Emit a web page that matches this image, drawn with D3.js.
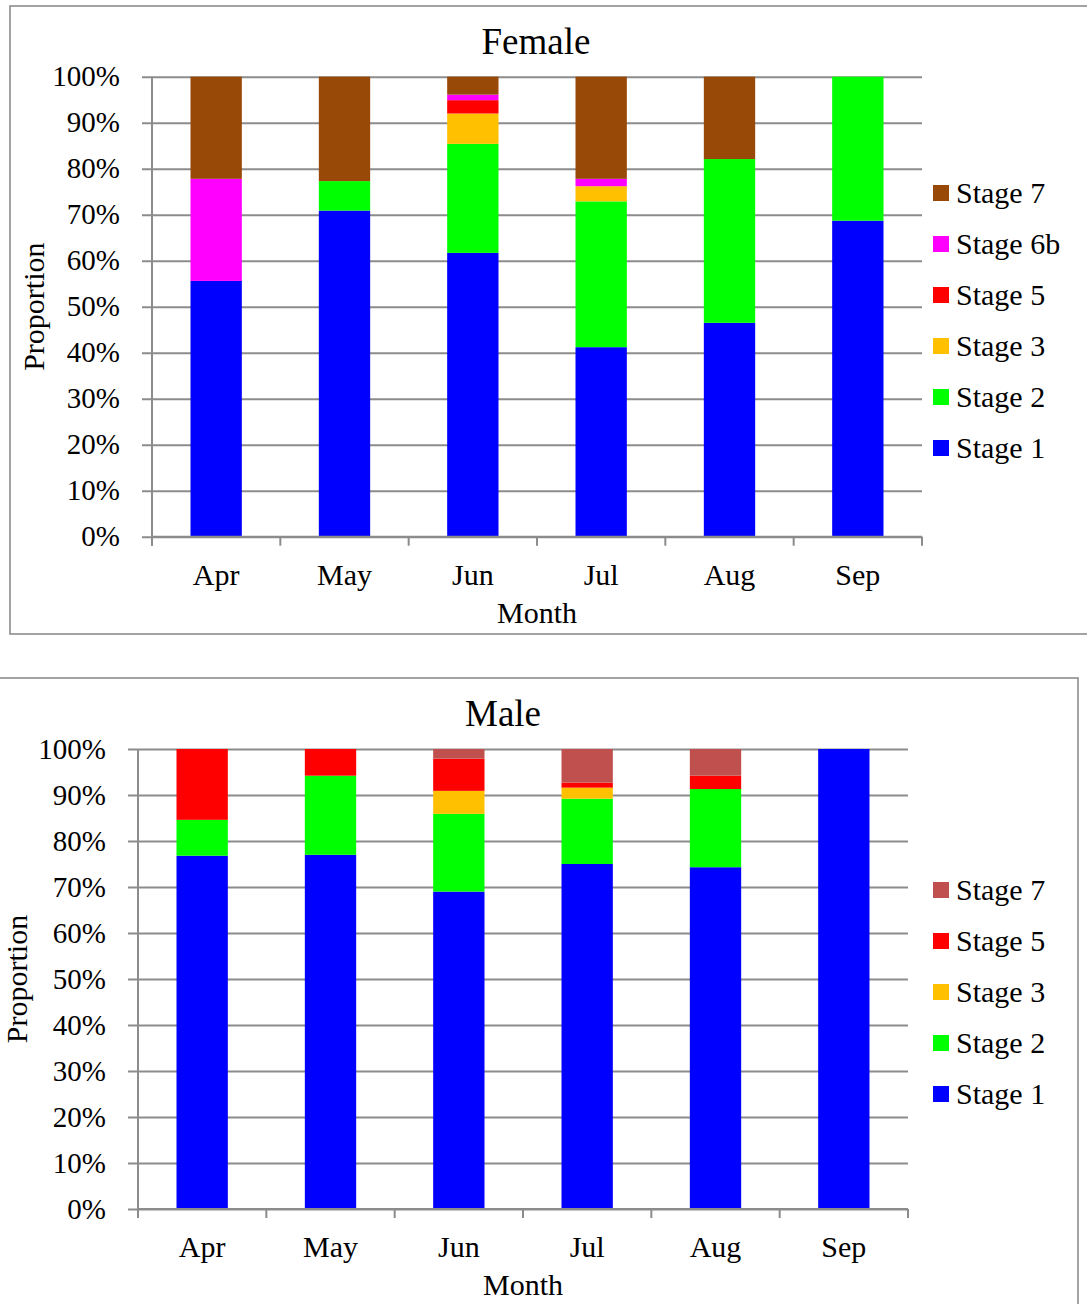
<!DOCTYPE html>
<html>
<head>
<meta charset="utf-8">
<script src="https://cdn.jsdelivr.net/npm/d3@7"></script>
<style>
  body { margin: 0; background: #fff; }
  svg text { font-family: "Liberation Serif", "Times New Roman", Times, serif !important; fill: #000; }
</style>
</head>
<body>
<svg id="chart"></svg>
<script>
// values, in percent
const months = ["Apr", "May", "Jun", "Jul", "Aug", "Sep"];

const femaleStages = ["Stage 1", "Stage 2", "Stage 3", "Stage 5", "Stage 6b", "Stage 7"];
const femaleColors = ["#0000FF", "#00FF00", "#FFC000", "#FF0000", "#FF00FF", "#984807"];
const femaleS1  = [55.6, 70.9, 61.7, 41.2, 46.5, 68.7];
const femaleS2  = [0,     6.4, 23.7, 31.7, 35.6, 31.3];
const femaleS3  = [0,     0,    6.6,  3.3,  0,    0];
const femaleS5  = [0,     0,    2.9,  0,    0,    0];
const femaleS6b = [22.2,  0,    1.2,  1.6,  0,    0];
const femaleS7  = [22.2, 22.7,  3.9, 22.2, 17.9,  0];

const maleStages = ["Stage 1", "Stage 2", "Stage 3", "Stage 5", "Stage 7"];
const maleColors = ["#0000FF", "#00FF00", "#FFC000", "#FF0000", "#C0504D"];
const maleS1 = [76.8, 77.0, 69.0, 75.0, 74.3, 100];
const maleS2 = [7.8,  17.2, 16.9, 14.2, 17.0, 0];
const maleS3 = [0,     0,    5.0,  2.4,  0,   0];
const maleS5 = [15.4,  5.8,  7.0,  1.1,  2.9, 0];
const maleS7 = [0,     0,    2.1,  7.3,  5.8, 0];

const yTicks = [0, 10, 20, 30, 40, 50, 60, 70, 80, 90, 100];

const width = 1087, height = 1304;
const serif = '"Liberation Serif", "Times New Roman", Times, serif';
const svg = d3.select("#chart").attr("width", width).attr("height", height)
  .attr("font-family", serif);
const grey = "#8c8c8c";

const drawChart = (cfg) => {
  const table = months.map((m, i) => {
    const row = { month: m };
    cfg.stages.forEach((s, j) => row[s] = cfg.series[j][i]);
    return row;
  });
  const stacked = d3.stack().keys(cfg.stages)(table);

  // frame
  svg.append("rect")
    .attr("x", cfg.box[0]).attr("y", cfg.box[1])
    .attr("width", cfg.box[2]).attr("height", cfg.box[3])
    .attr("fill", "none").attr("stroke", grey).attr("stroke-width", 1.6);

  const y = d3.scaleLinear().domain([0, 100]).range([cfg.bottom, cfg.top]);
  const xCat = d3.scaleBand().domain(months).range([cfg.left, cfg.right]);
  const x = d3.scaleBand().domain(months).range([cfg.left, cfg.right])
    .paddingInner(0.6).paddingOuter(0.3);

  // gridlines + y axis
  const yAxis = svg.append("g")
    .attr("transform", `translate(${cfg.left},0)`)
    .call(d3.axisLeft(y).tickValues(yTicks).tickFormat(d => d + "%")
      .tickSize(-(cfg.right - cfg.left)).tickPadding(32));
  yAxis.attr("font-family", serif);
  yAxis.select(".domain").remove();
  yAxis.selectAll("line").attr("stroke", grey).attr("stroke-width", 2)
    .attr("x1", -10);
  yAxis.selectAll("text").attr("font-size", 29)
    .attr("font-family", serif).style("font-family", serif);
  svg.append("line")
    .attr("x1", cfg.left).attr("x2", cfg.left)
    .attr("y1", cfg.top).attr("y2", cfg.bottom + 9)
    .attr("stroke", grey).attr("stroke-width", 2);

  // bars
  svg.append("g").selectAll("g").data(stacked).join("g")
    .attr("fill", (d, i) => cfg.colors[i])
    .selectAll("rect").data(d => d).join("rect")
      .attr("x", d => x(d.data.month))
      .attr("width", x.bandwidth())
      .attr("y", d => y(d[1]))
      .attr("height", d => y(d[0]) - y(d[1]));

  // x axis
  svg.append("line")
    .attr("x1", cfg.left).attr("x2", cfg.right)
    .attr("y1", cfg.bottom).attr("y2", cfg.bottom)
    .attr("stroke", grey).attr("stroke-width", 2);
  const bounds = months.map(m => xCat(m)).concat([cfg.right]);
  svg.append("g").selectAll("line").data(bounds).join("line")
    .attr("x1", d => d).attr("x2", d => d)
    .attr("y1", cfg.bottom).attr("y2", cfg.bottom + 9)
    .attr("stroke", grey).attr("stroke-width", 2);
  svg.append("g").selectAll("text").data(months).join("text")
    .attr("x", d => xCat(d) + xCat.bandwidth() / 2)
    .attr("y", cfg.bottom + 48)
    .attr("text-anchor", "middle").attr("font-size", 30)
    .style("font-family", serif)
    .text(d => d);

  // titles
  svg.append("text").attr("x", cfg.titleX).attr("y", cfg.titleY)
    .attr("text-anchor", "middle").attr("font-size", 37)
    .style("font-family", serif).text(cfg.title);
  svg.append("text").attr("x", (cfg.left + cfg.right) / 2).attr("y", cfg.bottom + 86)
    .attr("text-anchor", "middle").attr("font-size", 30)
    .style("font-family", serif).text("Month");
  svg.append("text")
    .attr("transform", `translate(${cfg.yTitleX},${(cfg.top + cfg.bottom) / 2}) rotate(-90)`)
    .attr("text-anchor", "middle").attr("font-size", 30)
    .style("font-family", serif).text("Proportion");

  // legend, top entry = last stage
  const legend = svg.append("g").selectAll("g")
    .data(cfg.stages.map((s, i) => ({ s, c: cfg.colors[i] })).reverse())
    .join("g")
    .attr("transform", (d, i) => `translate(933,${cfg.legendY + i * 51})`);
  legend.append("rect").attr("x", 0).attr("y", -8).attr("width", 16).attr("height", 16)
    .attr("fill", d => d.c);
  legend.append("text").attr("x", 23).attr("y", 10).attr("font-size", 30)
    .style("font-family", serif).text(d => d.s);
};

drawChart({
  title: "Female", titleX: 536, titleY: 54,
  stages: femaleStages, colors: femaleColors,
  series: [femaleS1, femaleS2, femaleS3, femaleS5, femaleS6b, femaleS7],
  box: [10, 6, 1090, 628],
  left: 152, right: 922, top: 76.7, bottom: 536.7,
  yTitleX: 44, legendY: 193
});

drawChart({
  title: "Male", titleX: 503, titleY: 726,
  stages: maleStages, colors: maleColors,
  series: [maleS1, maleS2, maleS3, maleS5, maleS7],
  box: [-2, 678, 1080, 640],
  left: 138, right: 908, top: 749, bottom: 1209,
  yTitleX: 27, legendY: 890
});
</script>
</body>
</html>
